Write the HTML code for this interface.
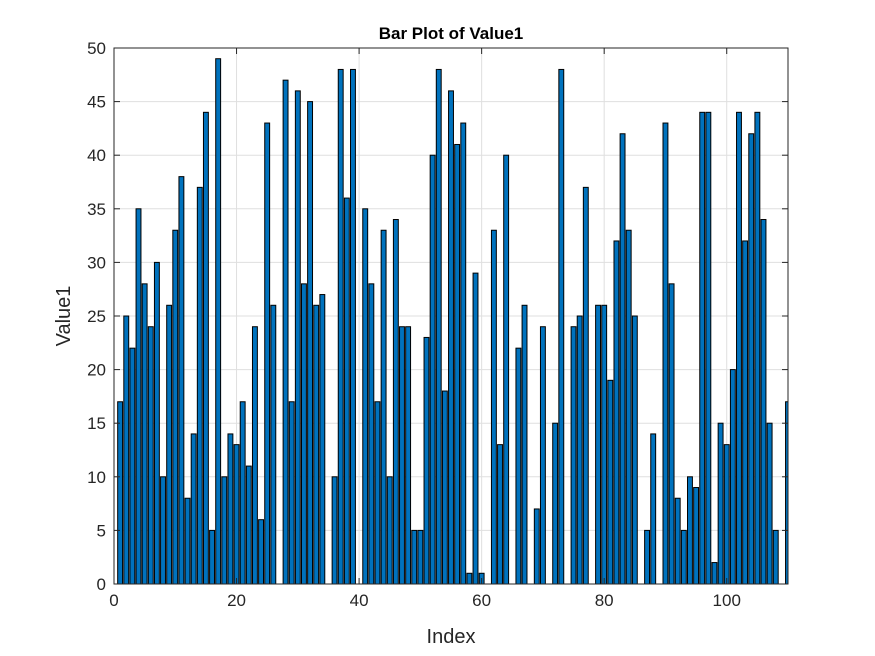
<!DOCTYPE html>
<html><head><meta charset="utf-8"><style>
body{margin:0;background:#fff;}
svg{display:block;font-family:"Liberation Sans",Arial,sans-serif;}
</style></head><body>
<svg id="chart" width="875" height="656" viewBox="0 0 875 656"></svg>
<script>
const indices=[];for(let i=1;i<=110;i++)indices.push(i);
const values=[17,25,22,35,28,24,30,10,26,33,38,8,14,37,44,5,49,10,14,13,17,11,24,6,43,26,0,47,17,46,28,45,26,27,0,10,48,36,48,0,35,28,17,33,10,34,24,24,5,5,23,40,48,18,46,41,43,1,29,1,0,33,13,40,0,22,26,0,7,24,0,15,48,0,24,25,37,0,26,26,19,32,42,33,25,0,5,14,0,43,28,8,5,10,9,44,44,2,15,13,20,44,32,42,44,34,15,5,0,17];
const xTicks=[0,20,40,60,80,100];
const yTicks=[0,5,10,15,20,25,30,35,40,45,50];
const L=114,R=788,T=48,B=584,XMAX=110,YMAX=50;
const sx=v=>L+(R-L)*v/XMAX, sy=v=>B-(B-T)*v/YMAX;
const svg=document.getElementById('chart');const NS='http://www.w3.org/2000/svg';
function mk(t,a,p){const e=document.createElementNS(NS,t);for(const k in a)e.setAttribute(k,a[k]);(p||svg).appendChild(e);return e;}
const defs=mk('defs',{});const cp=mk('clipPath',{id:'plotclip'},defs);mk('rect',{x:L,y:T-2,width:R-L,height:B-T+4},cp);
mk('rect',{x:L,y:T,width:R-L,height:B-T,fill:'#fff'});
const grid=mk('g',{stroke:'#dfdfdf','stroke-width':1});

xTicks.forEach(t=>mk('line',{x1:sx(t),x2:sx(t),y1:T,y2:B},grid));
yTicks.forEach(t=>mk('line',{x1:L,x2:R,y1:sy(t),y2:sy(t)},grid));
const bars=mk('g',{'clip-path':'url(#plotclip)'});

const bw=(R-L)/XMAX*0.8;
values.forEach((v,i)=>{if(v<=0)return;const r=mk('rect',{x:sx(indices[i])-bw/2,y:sy(v),width:bw,height:sy(0)-sy(v),fill:'#0072BD',stroke:'#000','stroke-width':1},bars);

});
const ax=mk('g',{stroke:'#262626','stroke-width':1,fill:'none'});

mk('rect',{x:L,y:T,width:R-L,height:B-T},ax);
xTicks.forEach(t=>{mk('line',{x1:sx(t),x2:sx(t),y1:B,y2:B-6},ax);mk('line',{x1:sx(t),x2:sx(t),y1:T,y2:T+6},ax);
const tx=mk('text',{x:sx(t),y:B+22,'text-anchor':'middle','font-size':17,fill:'#262626'});tx.textContent=t;
});
yTicks.forEach(t=>{mk('line',{x1:L,x2:L+6,y1:sy(t),y2:sy(t)},ax);mk('line',{x1:R,x2:R-6,y1:sy(t),y2:sy(t)},ax);
const tx=mk('text',{x:L-8,y:sy(t)+6,'text-anchor':'end','font-size':17,fill:'#262626'});tx.textContent=t;
});
let e=mk('text',{x:(L+R)/2,y:39,'text-anchor':'middle','font-size':17,'font-weight':'bold',fill:'#000'});e.textContent='Bar Plot of Value1';

e=mk('text',{x:(L+R)/2,y:643,'text-anchor':'middle','font-size':20,fill:'#262626'});e.textContent='Index';

e=mk('text',{x:0,y:0,'text-anchor':'middle','font-size':20,fill:'#262626',transform:'translate(70,316) rotate(-90)'});e.textContent='Value1';

</script>
</body></html>
